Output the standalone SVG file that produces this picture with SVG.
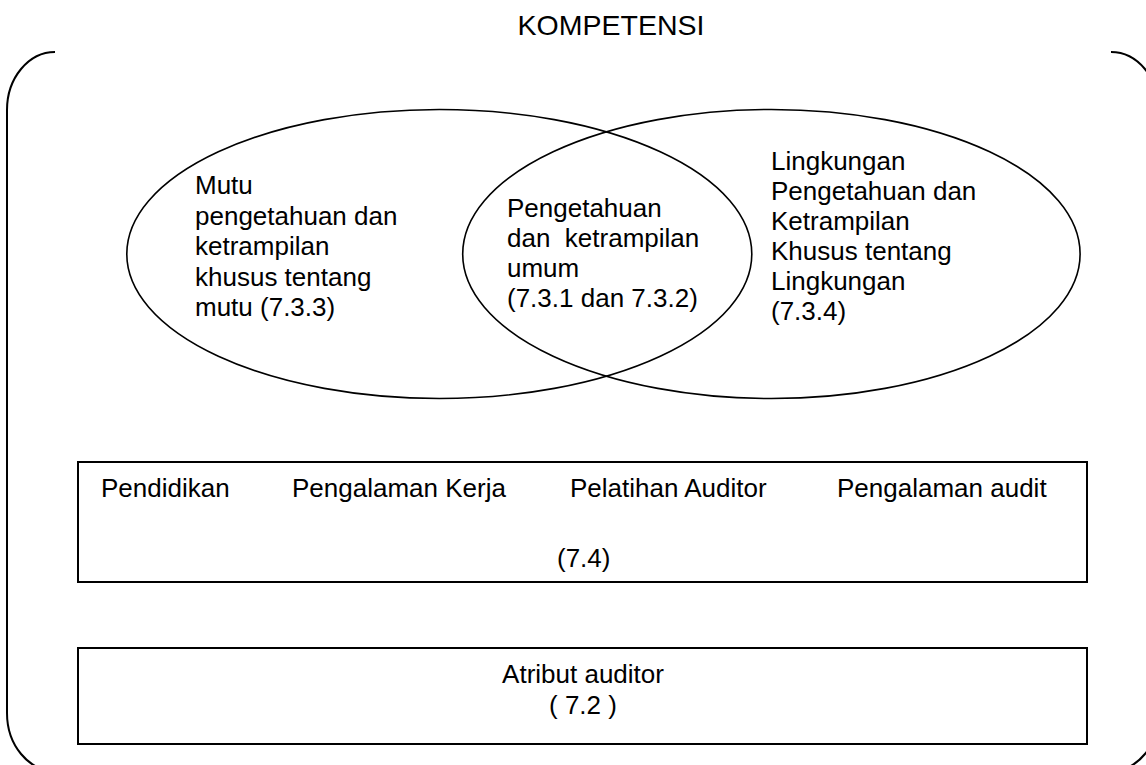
<svg xmlns="http://www.w3.org/2000/svg" width="1146" height="765" viewBox="0 0 1146 765">
<style>
text{font-family:"Liberation Sans",Arial,sans-serif;font-size:26px;fill:#000;white-space:pre}
.ln{fill:none;stroke:#000;stroke-width:2}
.el{fill:none;stroke:#000;stroke-width:1.6}
.c{text-anchor:middle}
</style>
<rect width="1146" height="765" fill="#fff"/>
<g id="title"><text class="c" x="611" y="35" style="font-size:28.5px">KOMPETENSI</text></g>
<g id="frame"><path class="ln" d="M55,52 A48,58 0 0 0 7,110 V713 A48,58 0 0 0 55,771 H1111 A48,58 0 0 0 1159,713 V110 A48,58 0 0 0 1111,52"/></g>
<g id="quality">
<ellipse class="el" cx="439.3" cy="254" rx="312.5" ry="144.5"/>
<text x="195" y="194">Mutu</text>
<text x="195" y="224.5">pengetahuan dan</text>
<text x="195" y="255">ketrampilan</text>
<text x="195" y="285.5">khusus tentang</text>
<text x="195" y="315.5">mutu (7.3.3)</text>
</g>
<g id="environment">
<ellipse class="el" cx="771.4" cy="254" rx="308.7" ry="144.5"/>
<text x="771" y="170">Lingkungan</text>
<text x="771" y="200">Pengetahuan dan</text>
<text x="771" y="230">Ketrampilan</text>
<text x="771" y="260">Khusus tentang</text>
<text x="771" y="290">Lingkungan</text>
<text x="771" y="320">(7.3.4)</text>
</g>
<g id="general">
<text x="507" y="217">Pengetahuan</text>
<text x="507" y="247">dan  ketrampilan</text>
<text x="507" y="277">umum</text>
<text x="507" y="307">(7.3.1 dan 7.3.2)</text>
</g>
<g id="education">
<rect class="ln" x="78" y="462" width="1009" height="120"/>
<text x="101" y="497">Pendidikan</text>
<text x="292" y="497">Pengalaman Kerja</text>
<text x="570" y="497">Pelatihan Auditor</text>
<text x="837" y="497">Pengalaman audit</text>
<text x="557" y="567">(7.4)</text>
</g>
<g id="attributes">
<rect class="ln" x="78" y="648" width="1009" height="96"/>
<text class="c" x="583" y="683">Atribut auditor</text>
<text class="c" x="583" y="714">( 7.2 )</text>
</g>
<g id="connectors"/>
</svg>
